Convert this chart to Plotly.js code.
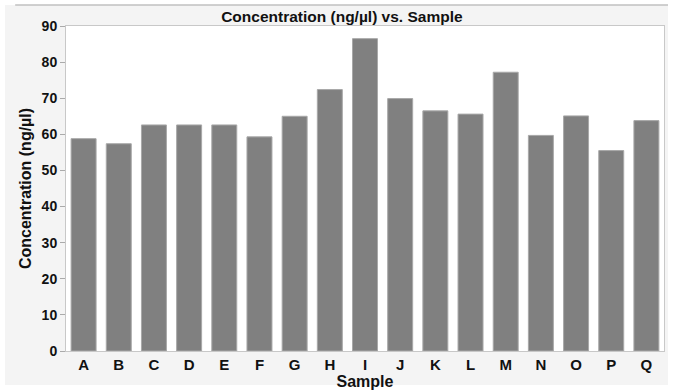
<!DOCTYPE html>
<html>
<head>
<meta charset="utf-8">
<script src="https://cdn.plot.ly/plotly-3.0.1.min.js"></script>
<style>html,body{margin:0;padding:0;background:#fff;}#chart{width:673px;height:392px;}</style>
</head>
<body>
<div id="chart"></div>
<script>
const samples = ["A","B","C","D","E","F","G","H","I","J","K","L","M","N","O","P","Q"];
const concentration = [58.8, 57.4, 62.6, 62.6, 62.6, 59.3, 65.0, 72.4, 86.5, 69.9, 66.5, 65.6, 77.2, 59.7, 65.1, 55.5, 63.8];
const yTicks = [0,10,20,30,40,50,60,70,80,90];

const font = "Liberation Sans, Arial, sans-serif";
const trace = {
  type: "bar",
  x: samples,
  y: concentration,
  marker: {color: "#808080", line: {color: "#a8a8a8", width: 1}},
  hoverinfo: "x+y"
};
const layout = {
  width: 673, height: 392,
  margin: {l: 66, r: 9, t: 26, b: 41},
  paper_bgcolor: "#ffffff",
  plot_bgcolor: "#ffffff",
  bargap: 0.29,
  showlegend: false,
  title: {text: "Concentration (ng/µl) vs. Sample", font: {family: font, size: 15.5, weight: "bold", color: "#111"},
          x: 0.508, xref: "container", xanchor: "center", y: 0.958, yanchor: "middle"},
  xaxis: {
    title: {text: "Sample", font: {family: font, size: 16, weight: "bold", color: "#111"}, standoff: 1},
    tickfont: {family: font, size: 15, weight: "bold", color: "#111"},
    showline: true, linecolor: "#c8c8c8", linewidth: 1, mirror: true,
    ticks: "", showgrid: false, zeroline: false
  },
  yaxis: {
    title: {text: "Concentration (ng/µl)", font: {family: font, size: 16, weight: "bold", color: "#111"}, standoff: 6},
    range: [0, 90], tickvals: yTicks,
    tickfont: {family: font, size: 14, weight: "bold", color: "#111"},
    ticks: "outside", ticklen: 5, tickcolor: "#aaaaaa",
    showline: true, linecolor: "#c8c8c8", linewidth: 1, mirror: true,
    showgrid: false, zeroline: false
  },
  shapes: [
    {type: "rect", xref: "paper", yref: "paper", x0: -0.102, x1: 1.0067, y0: -0.1046, y1: 1.0646,
     fillcolor: "#f4f4f4", line: {width: 0}, layer: "below"},
    {type: "rect", xref: "paper", yref: "paper", x0: 0, x1: 1, y0: 0, y1: 1,
     fillcolor: "#ffffff", line: {width: 0}, layer: "below"},
    {type: "line", xref: "paper", yref: "paper", x0: -0.085, x1: 1.0067, y0: 1.0646, y1: 1.0646,
     line: {color: "#c0c0c0", width: 1.5}, layer: "below"}
  ]
};
Plotly.newPlot("chart", [trace], layout, {displayModeBar: false, staticPlot: true});
</script>
</body>
</html>
